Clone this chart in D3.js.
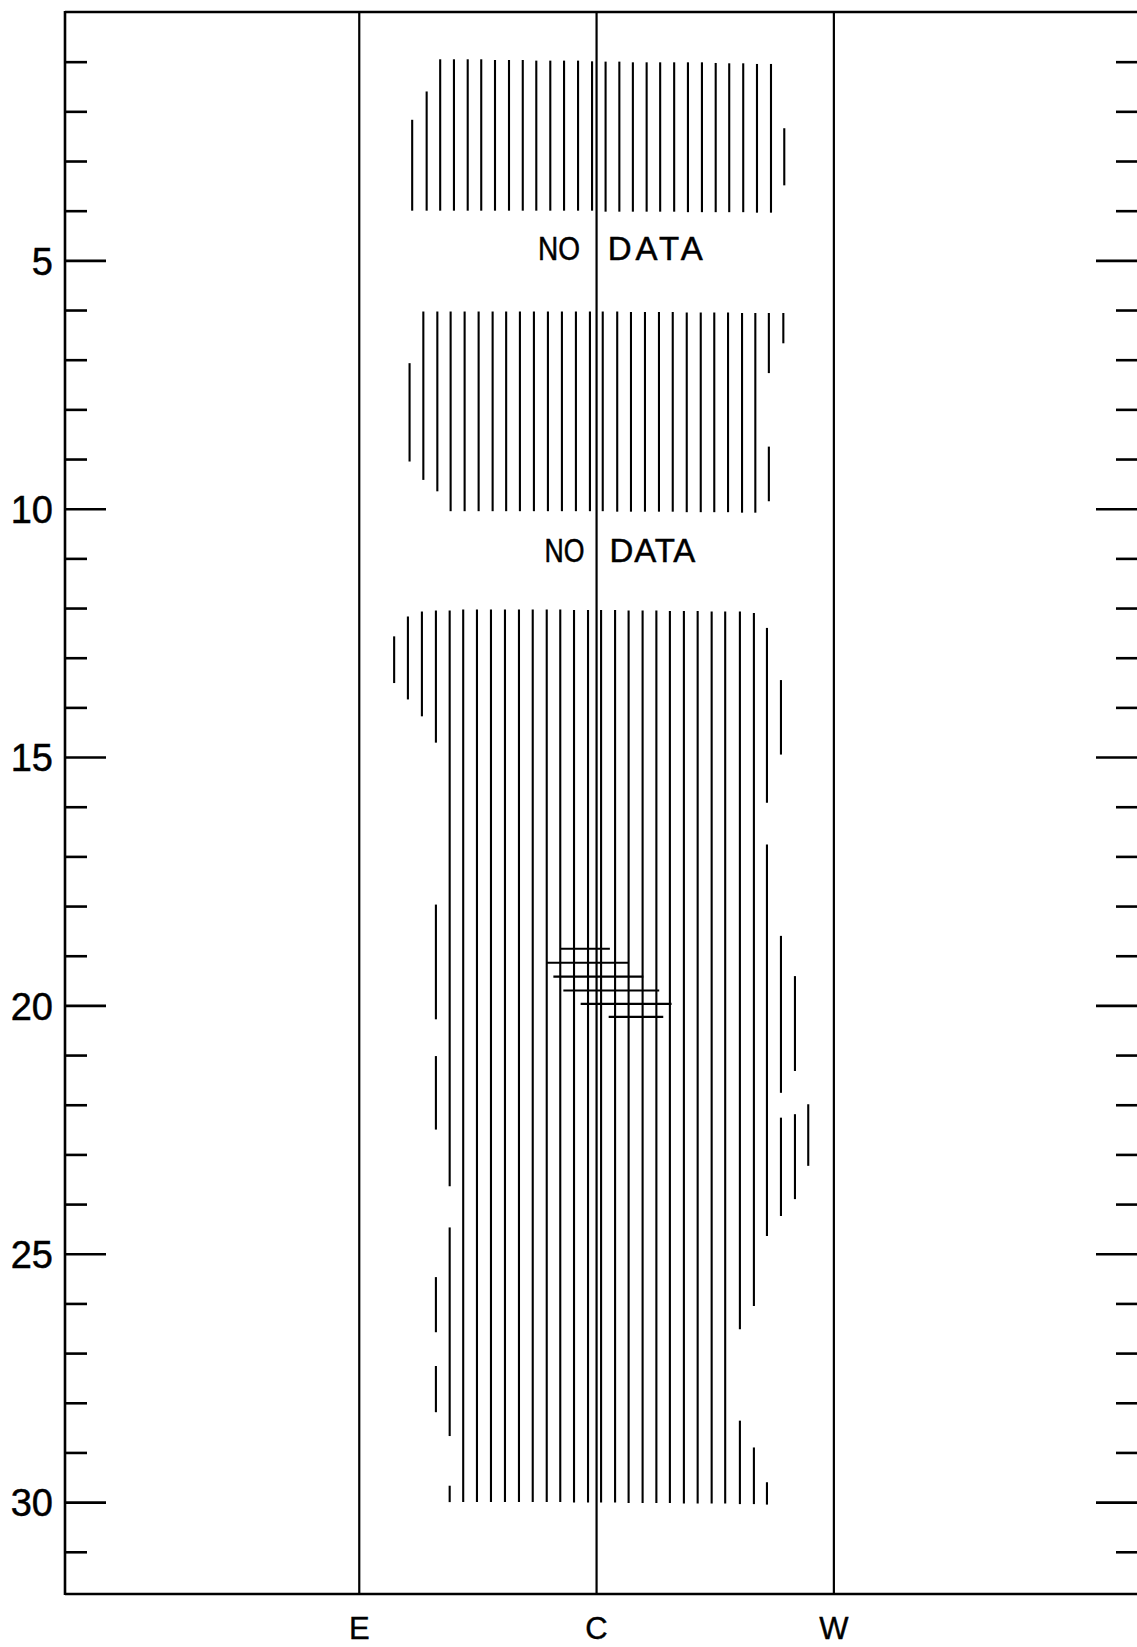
<!DOCTYPE html>
<html><head><meta charset="utf-8">
<script src="https://cdn.jsdelivr.net/npm/d3@7"></script>
<style>
html,body{margin:0;padding:0;background:#fff;}
svg{display:block;}
text{font-family:"Liberation Sans", Arial, Helvetica, sans-serif; fill:#000;}
</style></head><body>
<svg id="chart" width="1137" height="1647"></svg>
<script>
// ---------------- DATA ----------------
// y: level (0 at top of frame), x: lateral position with E=-1, C=0, W=1
const yMajorTicks = [5, 10, 15, 20, 25, 30];
const yMinorTicks = [1,2,3,4,6,7,8,9,11,12,13,14,16,17,18,19,21,22,23,24,26,27,28,29,31];
const xLabels = ["E", "C", "W"];
const xLabelPositions = [-1, 0, 1];

// hatch segments: [x, fromLevel, toLevel]
const hatchBlock1 = [
  [-0.777, 2.17, 4.00], [-0.716, 1.60, 4.00], [-0.659, 0.952, 4.00], [-0.601, 0.952, 4.00],
  [-0.543, 0.952, 4.00], [-0.486, 0.952, 4.00], [-0.428, 0.966, 4.00], [-0.369, 0.966, 4.00],
  [-0.311, 0.966, 4.00], [-0.254, 0.979, 4.00], [-0.195, 0.979, 4.00], [-0.137, 0.979, 4.00],
  [-0.078, 0.979, 4.00], [-0.019, 0.993, 4.00], [0.038, 0.999, 4.02], [0.096, 0.999, 4.02],
  [0.153, 1.013, 4.02], [0.211, 1.013, 4.02], [0.268, 1.013, 4.02], [0.327, 1.013, 4.02],
  [0.385, 1.013, 4.03], [0.444, 1.013, 4.03], [0.502, 1.026, 4.03], [0.559, 1.033, 4.03],
  [0.618, 1.033, 4.03], [0.676, 1.046, 4.04], [0.735, 1.046, 4.04], [0.791, 2.34, 3.49]
];
const hatchBlock2 = [
  [-0.788, 7.07, 9.05], [-0.730, 6.03, 9.42], [-0.671, 6.03, 9.65], [-0.615, 6.03, 10.05],
  [-0.556, 6.03, 10.05], [-0.497, 6.03, 10.05], [-0.438, 6.03, 10.05], [-0.381, 6.03, 10.05],
  [-0.323, 6.03, 10.05], [-0.264, 6.03, 10.05], [-0.205, 6.03, 10.05], [-0.146, 6.03, 10.05],
  [-0.087, 6.03, 10.05], [-0.028, 6.03, 10.05], [0.026, 6.03, 10.05], [0.087, 6.03, 10.06],
  [0.145, 6.04, 10.06], [0.204, 6.04, 10.06], [0.263, 6.04, 10.06], [0.321, 6.04, 10.06],
  [0.380, 6.05, 10.07], [0.439, 6.05, 10.07], [0.496, 6.05, 10.07], [0.554, 6.05, 10.07],
  [0.613, 6.06, 10.08], [0.669, 6.06, 10.08],
  [0.726, 6.06, 7.27], [0.726, 8.75, 9.85],
  [0.787, 6.06, 6.67]
];
const hatchBlock3 = [
  [-0.853, 12.57, 13.51], [-0.795, 12.17, 13.84], [-0.736, 12.07, 14.18],
  [-0.677, 12.05, 14.71], [-0.677, 17.97, 20.28], [-0.677, 21.02, 22.50], [-0.677, 25.47, 26.58], [-0.677, 27.26, 28.19],
  [-0.619, 12.05, 23.64], [-0.619, 24.47, 28.67], [-0.619, 29.67, 30.00],
  [-0.562, 12.03, 30.00], [-0.504, 12.03, 30.00], [-0.445, 12.03, 30.00], [-0.386, 12.03, 30.00],
  [-0.327, 12.03, 30.00], [-0.269, 12.03, 30.00], [-0.210, 12.03, 30.00], [-0.153, 12.03, 30.00],
  [-0.095, 12.04, 30.01], [-0.036, 12.04, 30.01], [0.019, 12.04, 30.01], [0.078, 12.04, 30.01],
  [0.135, 12.05, 30.02], [0.194, 12.05, 30.02], [0.252, 12.05, 30.02], [0.309, 12.06, 30.02],
  [0.368, 12.06, 30.03], [0.426, 12.06, 30.03], [0.485, 12.07, 30.03], [0.542, 12.07, 30.03],
  [0.604, 12.07, 26.52], [0.604, 28.36, 30.04],
  [0.663, 12.10, 26.05], [0.663, 28.90, 30.04],
  [0.718, 12.40, 15.92], [0.718, 16.76, 24.64], [0.718, 29.60, 30.05],
  [0.777, 13.45, 14.95], [0.777, 18.60, 21.76], [0.777, 22.26, 24.24],
  [0.836, 19.41, 21.32], [0.836, 22.19, 23.90],
  [0.892, 21.99, 23.23]
];
// horizontal bars: [level, fromX, toX]
const crossBars = [
  [18.86, -0.154, 0.056], [19.14, -0.210, 0.134], [19.42, -0.182, 0.197],
  [19.70, -0.140, 0.264], [19.97, -0.067, 0.316], [20.23, 0.051, 0.281]
];
// annotation texts: [text, xStart, width]
const noDataLabels = [
  {level: 5.0, parts: [["NO", -0.247, 42], ["DATA", 0.047, 95]]},
  {level: 11.07, parts: [["NO", -0.219, 40], ["DATA", 0.054, 86]]}
];

// ---------------- LAYOUT ----------------
const frame = {left: 65, right: 1140, top: 12, bottom: 1594};
const svg = d3.select("#chart");
const x = d3.scaleLinear().domain([-2.24, 2.29]).range([frame.left, frame.right]);
const y = d3.scaleLinear().domain([0, 31.85]).range([frame.top, frame.bottom]);
const ink = "#000";

// frame
const fr = svg.append("g").attr("stroke", ink).attr("stroke-width", 2.6).attr("fill", "none");
fr.append("line").attr("x1", frame.left).attr("x2", frame.left).attr("y1", frame.top - 1).attr("y2", frame.bottom + 1);
fr.append("line").attr("x1", frame.left).attr("x2", 1137).attr("y1", frame.top).attr("y2", frame.top);
fr.append("line").attr("x1", frame.left).attr("x2", 1137).attr("y1", frame.bottom).attr("y2", frame.bottom);

// E C W verticals
svg.append("g").selectAll("line").data(xLabelPositions).join("line")
  .attr("x1", d => x(d)).attr("x2", d => x(d))
  .attr("y1", frame.top).attr("y2", frame.bottom)
  .attr("stroke", ink).attr("stroke-width", 2.2);

// hatch
const allHatch = hatchBlock1.concat(hatchBlock2, hatchBlock3);
svg.append("g").selectAll("line").data(allHatch).join("line")
  .attr("x1", d => x(d[0])).attr("x2", d => x(d[0]))
  .attr("y1", d => y(d[1])).attr("y2", d => y(d[2]))
  .attr("stroke", ink).attr("stroke-width", 2.1);

svg.append("g").selectAll("line").data(crossBars).join("line")
  .attr("x1", d => x(d[1])).attr("x2", d => x(d[2]))
  .attr("y1", d => y(d[0])).attr("y2", d => y(d[0]))
  .attr("stroke", ink).attr("stroke-width", 2.1);

// axes
function styleAxis(g, fs) {
  g.select(".domain").remove();
  g.attr("font-family", null).attr("font-size", fs);
  g.selectAll(".tick line").attr("stroke", ink).attr("stroke-width", 2.6);
  g.selectAll(".tick text").attr("fill", "#000");
}
const gLmaj = svg.append("g").attr("transform", `translate(${frame.left},0)`)
  .call(d3.axisLeft(y).tickValues(yMajorTicks).tickSize(-41).tickPadding(12).tickFormat(d3.format("d")));
styleAxis(gLmaj, 38);
gLmaj.selectAll(".tick text").attr("dy", "0.36em").attr("stroke", "#000").attr("stroke-width", 0.5);
const gLmin = svg.append("g").attr("transform", `translate(${frame.left},0)`)
  .call(d3.axisLeft(y).tickValues(yMinorTicks).tickSize(-22).tickFormat(""));
styleAxis(gLmin, 10);
const gRmaj = svg.append("g").attr("transform", `translate(1137,0)`)
  .call(d3.axisRight(y).tickValues(yMajorTicks).tickSize(-41).tickFormat(""));
styleAxis(gRmaj, 10);
const gRmin = svg.append("g").attr("transform", `translate(1137,0)`)
  .call(d3.axisRight(y).tickValues(yMinorTicks).tickSize(-21).tickFormat(""));
styleAxis(gRmin, 10);

// x labels
svg.append("g").selectAll("text").data(xLabels).join("text")
  .attr("x", (d, i) => x(xLabelPositions[i]))
  .attr("y", 1639)
  .attr("text-anchor", "middle")
  .attr("font-size", 31)
  .attr("stroke", "#000").attr("stroke-width", 0.4)
  .text(d => d);

// NO DATA
noDataLabels.forEach(lab => {
  const t = svg.append("text").attr("font-size", 33).attr("y", y(lab.level))
    .attr("stroke", "#000").attr("stroke-width", 0.5);
  lab.parts.forEach((p, i) => {
    t.append("tspan").attr("x", x(p[1])).attr("textLength", p[2])
      .attr("lengthAdjust", i === 0 ? "spacingAndGlyphs" : "spacing").text(p[0]);
  });
});
</script>
</body></html>
